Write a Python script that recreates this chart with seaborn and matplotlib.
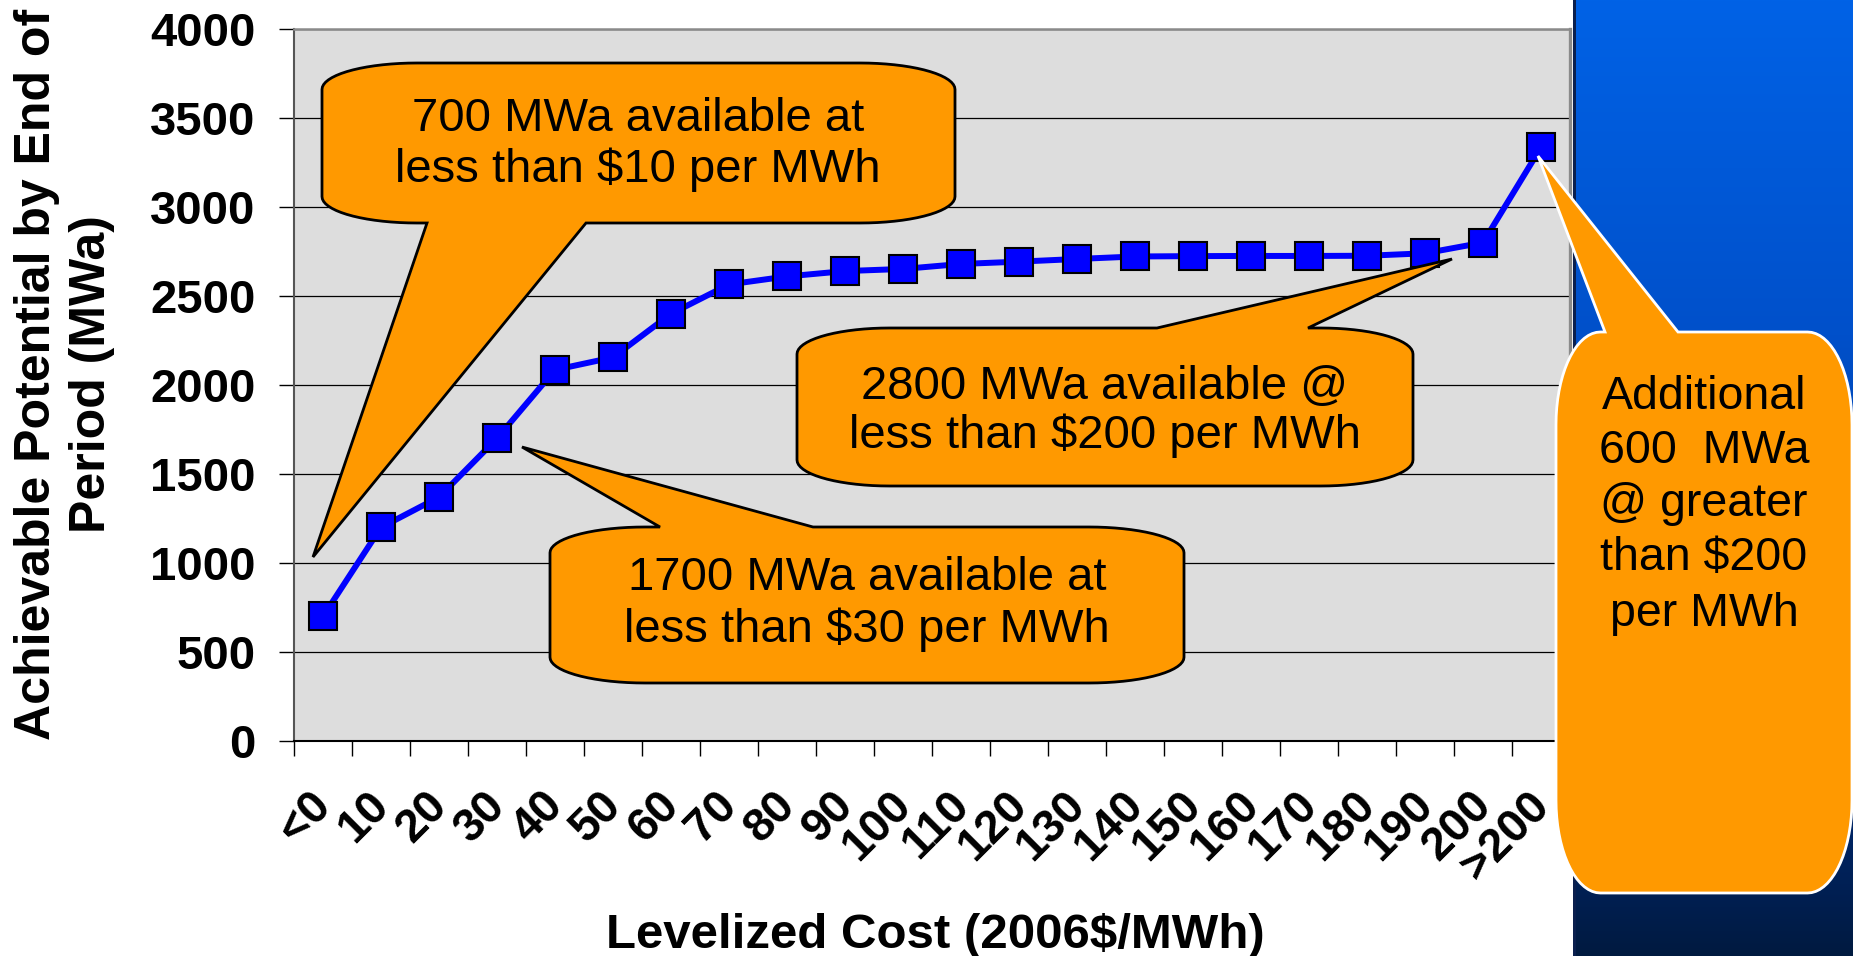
import numpy as np
import pandas as pd
import matplotlib
matplotlib.use("Agg")
import matplotlib.pyplot as plt
import matplotlib.transforms as mtransforms
from matplotlib.path import Path
from matplotlib.patches import PathPatch, Rectangle
import seaborn as sns

# ---------------------------------------------------------------- data
categories = ["<0", "10", "20", "30", "40", "50", "60", "70", "80", "90",
              "100", "110", "120", "130", "140", "150", "160", "170", "180",
              "190", "200", ">200"]
potential_mwa = [700, 1200, 1370, 1700, 2085, 2155, 2400, 2565, 2610, 2640,
                 2652, 2680, 2693, 2708, 2722, 2724, 2725, 2725, 2726, 2740,
                 2800, 3335]
y_ticks = [0, 500, 1000, 1500, 2000, 2500, 3000, 3500, 4000]

x_title = "Levelized Cost (2006$/MWh)"
y_title = "Achievable Potential by End of\nPeriod (MWa)"

note_10 = ["700 MWa available at", "less than $10 per MWh"]
note_200 = ["2800 MWa available @", "less than $200 per MWh"]
note_30 = ["1700 MWa available at", "less than $30 per MWh"]
note_extra = ["Additional", "600  MWa", "@ greater", "than $200", "per MWh"]

# ---------------------------------------------------------------- figure
W, H, DPI = 1853, 956, 100
sns.set_style("white")
plt.rcParams["font.family"] = ["Liberation Sans", "DejaVu Sans"]
plt.rcParams.update({"text.color": "black", "axes.labelcolor": "black",
                     "xtick.color": "black", "ytick.color": "black"})

fig = plt.figure(figsize=(W / DPI, H / DPI), dpi=DPI, facecolor="white")
px = mtransforms.IdentityTransform()

# blue gradient strip on the right
panel_x = 1573
panel = fig.add_axes([panel_x / W, 0, (W - panel_x) / W, 1], zorder=-1)
stops = np.array([0.0, 0.35, 0.62, 0.9, 1.0])
cols = np.array([[0, 98, 230], [0, 80, 202], [0, 60, 160], [0, 34, 92], [0, 26, 64]]) / 255
t = np.linspace(0, 1, 400)
grad = np.stack([np.interp(t, stops, cols[:, k]) for k in range(3)], axis=-1)[:, None, :]
panel.imshow(grad, aspect="auto", extent=[0, 1, 0, 1], origin="upper")
panel.set_axis_off()
fig.add_artist(Rectangle((panel_x, 0), 2.5, H, transform=px,
                         facecolor="#0a1f4e", edgecolor="none", zorder=1))

# main chart
ax = fig.add_axes([294 / W, (H - 741) / H, 1276 / W, 712 / H])
ax.set_facecolor("#DDDDDD")

df = pd.DataFrame({"pos": np.arange(len(categories)),
                   "cost": categories,
                   "mwa": potential_mwa})
sns.lineplot(data=df, x="pos", y="mwa", ax=ax, color="#0000FF", linewidth=4.3,
             marker="s", markersize=19.5, markerfacecolor="#0000FF",
             markeredgecolor="black", markeredgewidth=1.5, zorder=3)

ax.set_xlim(-0.5, len(categories) - 0.5)
ax.set_ylim(y_ticks[0], y_ticks[-1])

ax.set_yticks(y_ticks)
ax.set_yticklabels([str(v) for v in y_ticks], fontsize=34, fontweight="bold",
                   color="black")
ax.yaxis.grid(True, color="black", linewidth=0.9)
ax.set_axisbelow(True)
ax.tick_params(axis="y", direction="out", length=10.8, width=1.0,
               color="black", pad=17, left=True)

ax.set_xticks(np.arange(len(categories)))
ax.set_xticklabels(categories, rotation=45, ha="right", va="top",
                   rotation_mode="anchor", fontsize=33.5, fontweight="bold",
                   color="black")
ax.set_xticks(np.arange(-0.5, len(categories), 1.0), minor=True)
ax.tick_params(axis="x", which="major", length=0, pad=30.5, bottom=True)
ax.tick_params(axis="x", which="minor", length=10.8, width=1.0,
               direction="out", color="black", bottom=True)
shift = mtransforms.ScaledTranslation(-14 / DPI, 0, fig.dpi_scale_trans)
for lbl in ax.get_xticklabels():
    lbl.set_transform(lbl.get_transform() + shift)

ax.spines["left"].set_color("#555555")
ax.spines["left"].set_linewidth(1.5)
ax.spines["bottom"].set_color("black")
ax.spines["bottom"].set_linewidth(1.5)
ax.spines["top"].set_color("#8a8a8a")
ax.spines["top"].set_linewidth(1.8)
ax.spines["right"].set_color("#8a8a8a")
ax.spines["right"].set_linewidth(2.4)

ax.set_xlabel(x_title, fontsize=35.5, fontweight="bold", va="baseline",
              color="black")
ax.xaxis.set_label_coords(0.503, -0.2907)
ax.set_ylabel(y_title, fontsize=36, fontweight="bold", va="center",
              linespacing=1.25, color="black")
ax.yaxis.set_label_coords(-0.1795, 0.5154)


# ---------------------------------------------------------------- callouts
def callout(x0, y0, x1, y1, side, base, tip, edge, rxf=0.15, ryf=0.165, n=18):
    """Rounded box with a wedge pointer; coordinates in pixels from top-left."""
    rx, ry = rxf * (x1 - x0), ryf * (y1 - y0)

    def arc(cx, cy, a0, a1):
        a = np.radians(np.linspace(a0, a1, n))
        return list(zip(cx + rx * np.cos(a), cy + ry * np.sin(a)))

    v = [(x0 + rx, y0)]
    if side == "top":
        v += [(base[0], y0), tip, (base[1], y0)]
    v += [(x1 - rx, y0)]
    v += arc(x1 - rx, y0 + ry, -90, 0)
    v += [(x1, y1 - ry)]
    v += arc(x1 - rx, y1 - ry, 0, 90)
    if side == "bottom":
        v += [(base[1], y1), tip, (base[0], y1)]
    v += [(x0 + rx, y1)]
    v += arc(x0 + rx, y1 - ry, 90, 180)
    v += [(x0, y0 + ry)]
    v += arc(x0 + rx, y0 + ry, 180, 270)
    v.append(v[0])
    v = [(x, H - y) for x, y in v]
    codes = [Path.MOVETO] + [Path.LINETO] * (len(v) - 2) + [Path.CLOSEPOLY]
    fig.add_artist(PathPatch(Path(v, codes), transform=px, facecolor="#FF9900",
                             edgecolor=edge, linewidth=2.0, joinstyle="miter",
                             zorder=10))


def note(lines, cx, baselines, size=34):
    for s, yb in zip(lines, baselines):
        fig.text(cx, H - yb, s, transform=px, ha="center", va="baseline",
                 fontsize=size, color="black", zorder=12)


callout(322, 63, 955, 223, "bottom", (427, 586), (313, 557), "black")
note(note_10, 638, [131, 182])

callout(797, 328, 1413, 486, "top", (1157, 1308), (1452, 259), "black")
note(note_200, 1105, [399, 448])

callout(550, 527, 1184, 683, "top", (660, 813), (522, 447), "black")
note(note_30, 867, [590, 642])

callout(1556, 332, 1852, 893, "top", (1605, 1678), (1538, 156), "white")
note(note_extra, 1704, [409, 463, 516, 570, 626], size=33.5)

fig.savefig("out.png", dpi=DPI, facecolor="white")
